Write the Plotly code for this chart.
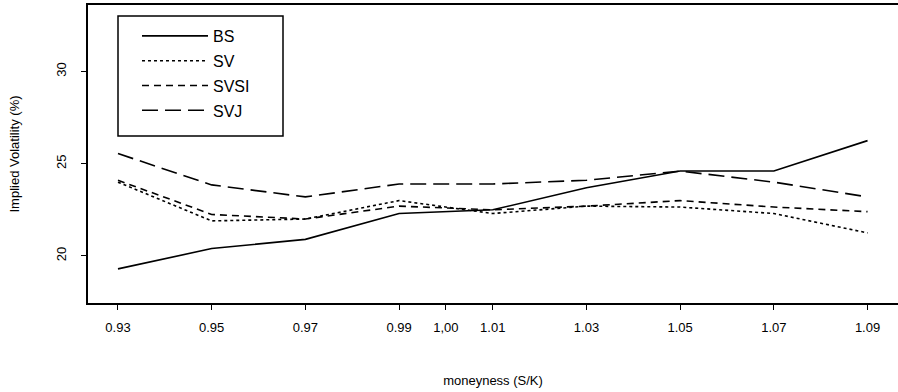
import plotly.graph_objects as go

moneyness = [0.93, 0.95, 0.97, 0.99, 1.01, 1.03, 1.05, 1.07, 1.09]
tick_vals = [0.93, 0.95, 0.97, 0.99, 1.00, 1.01, 1.03, 1.05, 1.07, 1.09]
tick_text = ["0.93", "0.95", "0.97", "0.99", "1,00", "1.01", "1.03", "1.05", "1.07", "1.09"]

bs = [19.3, 20.4, 20.9, 22.3, 22.5, 23.7, 24.6, 24.6, 26.25]
sv = [24.0, 21.9, 22.0, 23.0, 22.3, 22.7, 22.65, 22.3, 21.25]
svsi = [24.1, 22.25, 22.0, 22.7, 22.5, 22.7, 23.0, 22.65, 22.4]
svj = [25.55, 23.85, 23.2, 23.9, 23.9, 24.1, 24.6, 24.0, 23.2]

series = [
    ("BS", bs, "solid"),
    ("SV", sv, "dot"),
    ("SVSI", svsi, "7px,5px"),
    ("SVJ", svj, "16px,7px"),
]

font_family = "Liberation Sans, Arial, sans-serif"

fig = go.Figure()
for name, vals, dash in series:
    fig.add_trace(go.Scatter(
        x=moneyness, y=vals, mode="lines", name=name,
        legendgroup=name,
        line=dict(color="black", width=1.6, dash=dash),
    ))

# plot area in page pixels: x 88..898, y 5..303
PW, PH = 810, 298

# legend frame
fig.add_shape(type="rect", xref="paper", yref="paper",
              x0=30 / PW, x1=195 / PW, y0=(303 - 136) / PH, y1=(303 - 16) / PH,
              line=dict(color="black", width=1.5), fillcolor="rgba(0,0,0,0)")

fig.update_layout(
    template="none",
    width=898, height=392,
    margin=dict(l=88, r=0, t=5, b=89, autoexpand=False),
    paper_bgcolor="white", plot_bgcolor="white",
    font=dict(family=font_family, size=13, color="black"),
    hovermode=False,
    showlegend=True,
    legend=dict(
        x=(137 - 88) / PW, y=(303 - 19) / PH, xanchor="left", yanchor="top",
        borderwidth=0, bgcolor="rgba(0,0,0,0)",
        font=dict(size=16), tracegroupgap=1, itemwidth=66,
    ),
    xaxis=dict(
        range=[0.9236, 1.0965], tickvals=tick_vals, ticktext=tick_text,
        ticks="outside", ticklen=5, tickcolor="black", automargin=False,
        showgrid=False, zeroline=False,
        showline=True, linecolor="black", linewidth=1.5, mirror=True,
        ticklabelstandoff=7,
        title=dict(text="moneyness (S/K)", standoff=42, font=dict(size=13)),
    ),
    yaxis=dict(
        range=[17.45, 33.6], tickvals=[20, 25, 30],
        tickangle=-90, automargin=False,
        ticks="outside", ticklen=5, tickcolor="black",
        showgrid=False, zeroline=False,
        showline=True, linecolor="black", linewidth=1.5, mirror=True,
        ticklabelstandoff=10,
        title=dict(text="Implied Volatility (%)", standoff=31, font=dict(size=13)),
    ),
)

fig.write_html(
    "out.html",
    config={"displayModeBar": False},
    post_script="document.body.style.margin='0';document.body.style.overflow='hidden';",
)
